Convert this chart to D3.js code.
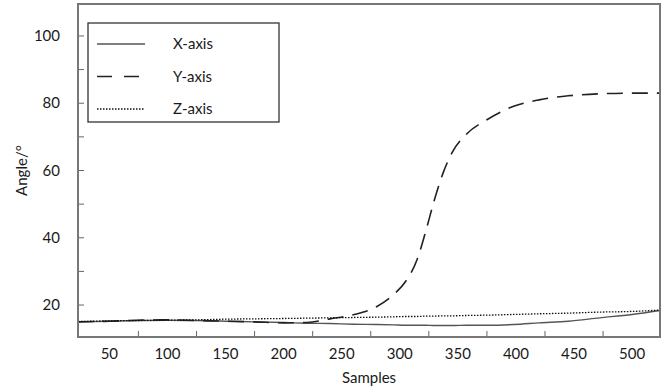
<!DOCTYPE html>
<html>
<head>
<meta charset="utf-8">
<script src="https://cdn.jsdelivr.net/npm/d3@7"></script>
<style>
  body { margin: 0; background: #fff; }
  svg text { font-family: Lato, "Open Sans", sans-serif; fill: #1a1a1a; }
</style>
</head>
<body>
<div id="chart"></div>
<script>
// Data
const samples = [23, 50, 75, 100, 125, 150, 175, 200, 220, 240, 260, 280, 295, 305, 315, 322, 330, 337, 345, 358, 375, 398, 420, 445, 472, 500, 524];
const xAxisAngle = [15.0, 15.2, 15.4, 15.5, 15.4, 15.2, 15.0, 14.8, 14.6, 14.5, 14.3, 14.2, 14.1, 14.0, 14.0, 14.0, 13.9, 13.9, 13.9, 14.0, 14.0, 14.2, 14.7, 15.2, 16.2, 17.2, 18.4];
const yAxisAngle = [15.0, 15.2, 15.5, 15.6, 15.4, 15.2, 15.0, 14.7, 14.8, 15.9, 17.1, 19.5, 23.2, 27.0, 33.6, 41.5, 51.5, 59.0, 65.3, 71.0, 75.1, 79.1, 81.0, 82.2, 82.8, 83.0, 83.0];
const zAxisAngle = [15.1, 15.3, 15.4, 15.5, 15.6, 15.8, 15.9, 16.0, 16.1, 16.2, 16.3, 16.4, 16.5, 16.6, 16.6, 16.7, 16.7, 16.8, 16.8, 16.9, 17.0, 17.2, 17.4, 17.6, 17.9, 18.1, 18.5];
const seriesNames = ["X-axis", "Y-axis", "Z-axis"];
const xTickLabels = [50, 100, 150, 200, 250, 300, 350, 400, 450, 500];
const xTickMarks = [75, 125, 175, 225, 275, 325, 375, 425, 475];
const yTickLabels = [20, 40, 60, 80, 100];
const yTickMarks = [20, 30, 40, 50, 60, 70, 80, 90, 100];

//Setup Dimensions
const width = 664;
const height = 392;
const margin = { top: 4, right: 4, bottom: 55, left: 78 };
const innerW = width - margin.left - margin.right;
const innerH = height - margin.top - margin.bottom;

const svg = d3.select("#chart")
    .append("svg")
    .attr("width", width)
    .attr("height", height);

const g = svg.append("g")
    .attr("transform", `translate(${margin.left},${margin.top})`);

//Scales
const x = d3.scaleLinear().domain([23, 524]).range([0, innerW]);
const y = d3.scaleLinear().domain([10.5, 109.5]).range([innerH, 0]);

//Tick marks point inward, labels sit outside
g.selectAll(".xtick")
    .data(xTickMarks)
    .enter().append("line")
    .attr("x1", d => x(d)).attr("x2", d => x(d))
    .attr("y1", innerH).attr("y2", innerH - 6)
    .attr("stroke", "#666").attr("stroke-width", 1);

g.selectAll(".xlab")
    .data(xTickLabels)
    .enter().append("text")
    .attr("x", d => x(d))
    .attr("y", innerH + 22)
    .attr("text-anchor", "middle")
    .style("font-size", "15px")
    .text(d => d);

g.selectAll(".ytick")
    .data(yTickMarks)
    .enter().append("line")
    .attr("x1", 0).attr("x2", 6)
    .attr("y1", d => y(d)).attr("y2", d => y(d))
    .attr("stroke", "#666").attr("stroke-width", 1);

g.selectAll(".ylab")
    .data(yTickLabels)
    .enter().append("text")
    .attr("x", -18)
    .attr("y", d => y(d))
    .attr("dy", "0.35em")
    .attr("text-anchor", "end")
    .style("font-size", "15px")
    .text(d => d);

//Axis titles
svg.append("text")
    .attr("x", margin.left + innerW / 2)
    .attr("y", 383)
    .attr("text-anchor", "middle")
    .style("font-size", "15px")
    .text("Samples");

svg.append("text")
    .attr("transform", `translate(27,${margin.top + innerH / 2}) rotate(-90)`)
    .attr("text-anchor", "middle")
    .style("font-size", "15px")
    .text("Angle/°");

//Lines
const styles = [
    { stroke: "#555", width: 1.4, dash: null },
    { stroke: "#222", width: 1.6, dash: "16,9" },
    { stroke: "#111", width: 1.3, dash: "1.5,1.5" }
];
const series = [xAxisAngle, yAxisAngle, zAxisAngle];

const line = d3.line()
    .x((d, i) => x(samples[i]))
    .y(d => y(d))
    .curve(d3.curveMonotoneX);

g.append("clipPath").attr("id", "clip")
    .append("rect").attr("width", innerW).attr("height", innerH);

series.forEach((vals, k) => {
    g.append("path")
        .datum(vals)
        .attr("clip-path", "url(#clip)")
        .attr("fill", "none")
        .attr("stroke", styles[k].stroke)
        .attr("stroke-width", styles[k].width)
        .attr("stroke-dasharray", styles[k].dash)
        .attr("d", line);
});

//Plot frame
g.append("rect")
    .attr("width", innerW).attr("height", innerH)
    .attr("fill", "none")
    .attr("stroke", "#777")
    .attr("stroke-width", 2);

//Legend
const legend = svg.append("g").attr("transform", "translate(88,23)");
legend.append("rect")
    .attr("width", 191).attr("height", 99)
    .attr("fill", "#fff")
    .attr("stroke", "#333")
    .attr("stroke-width", 1.3);

const legendRow = d3.scaleLinear().domain([0, 2]).range([21, 86]);
seriesNames.forEach((name, k) => {
    legend.append("line")
        .attr("x1", 9).attr("x2", 57)
        .attr("y1", legendRow(k)).attr("y2", legendRow(k))
        .attr("stroke", styles[k].stroke)
        .attr("stroke-width", styles[k].width)
        .attr("stroke-dasharray", k === 1 ? "15,12" : styles[k].dash);
    legend.append("text")
        .attr("x", 85)
        .attr("y", legendRow(k))
        .attr("dy", "0.35em")
        .style("font-size", "15px")
        .text(name);
});
</script>
</body>
</html>
